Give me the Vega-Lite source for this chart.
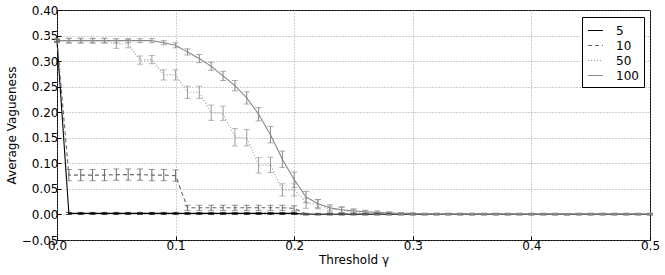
{
  "$schema": "https://vega.github.io/schema/vega-lite/v6.json",
  "width": 593,
  "height": 230,
  "autosize": {"type": "none"},
  "padding": {"left": 57, "top": 10, "right": 15, "bottom": 35},
  "config": {
    "font": "DejaVu Sans",
    "view": {"stroke": "#000000", "strokeWidth": 1},
    "axis": {
      "domain": false,
      "grid": true,
      "gridColor": "#888888",
      "gridDash": [1, 2],
      "gridWidth": 0.8,
      "tickColor": "#000000",
      "tickSize": -4,
      "labelFontSize": 12,
      "labelColor": "#000000",
      "labelOverlap": false,
      "labelFlush": false,
      "labelBound": false,
      "titleFontSize": 12,
      "titleFontWeight": "normal",
      "titleColor": "#000000"
    }
  },
  "data": {"values": [
    {"g":0,"n":"5","v":0.34,"lo":0.338,"hi":0.342},
    {"g":0.01,"n":"5","v":0.002,"lo":0,"hi":0.004},
    {"g":0.02,"n":"5","v":0.002,"lo":0,"hi":0.004},
    {"g":0.03,"n":"5","v":0.002,"lo":0,"hi":0.004},
    {"g":0.04,"n":"5","v":0.002,"lo":0,"hi":0.004},
    {"g":0.05,"n":"5","v":0.002,"lo":0,"hi":0.004},
    {"g":0.06,"n":"5","v":0.002,"lo":0,"hi":0.004},
    {"g":0.07,"n":"5","v":0.002,"lo":0,"hi":0.004},
    {"g":0.08,"n":"5","v":0.002,"lo":0,"hi":0.004},
    {"g":0.09,"n":"5","v":0.002,"lo":0,"hi":0.004},
    {"g":0.10,"n":"5","v":0.002,"lo":0,"hi":0.004},
    {"g":0.11,"n":"5","v":0.002,"lo":0,"hi":0.004},
    {"g":0.12,"n":"5","v":0.002,"lo":0,"hi":0.004},
    {"g":0.13,"n":"5","v":0.002,"lo":0,"hi":0.004},
    {"g":0.14,"n":"5","v":0.002,"lo":0,"hi":0.004},
    {"g":0.15,"n":"5","v":0.002,"lo":0,"hi":0.004},
    {"g":0.16,"n":"5","v":0.002,"lo":0,"hi":0.004},
    {"g":0.17,"n":"5","v":0.002,"lo":0,"hi":0.004},
    {"g":0.18,"n":"5","v":0.002,"lo":0,"hi":0.004},
    {"g":0.19,"n":"5","v":0.002,"lo":0,"hi":0.004},
    {"g":0.20,"n":"5","v":0.002,"lo":0,"hi":0.004},
    {"g":0.21,"n":"5","v":0.0005,"lo":-0.001,"hi":0.002},
    {"g":0.22,"n":"5","v":0.0005,"lo":-0.001,"hi":0.002},
    {"g":0.23,"n":"5","v":0.0005,"lo":-0.001,"hi":0.002},
    {"g":0.24,"n":"5","v":0.0005,"lo":-0.001,"hi":0.002},
    {"g":0.25,"n":"5","v":0.0005,"lo":-0.001,"hi":0.002},
    {"g":0.26,"n":"5","v":0.0005,"lo":-0.001,"hi":0.002},
    {"g":0.27,"n":"5","v":0.0005,"lo":-0.001,"hi":0.002},
    {"g":0.28,"n":"5","v":0.0005,"lo":-0.001,"hi":0.002},
    {"g":0.29,"n":"5","v":0.0005,"lo":-0.001,"hi":0.002},
    {"g":0.30,"n":"5","v":0.0005,"lo":-0.001,"hi":0.002},
    {"g":0.31,"n":"5","v":0.0005,"lo":-0.001,"hi":0.002},
    {"g":0.32,"n":"5","v":0.0005,"lo":-0.001,"hi":0.002},
    {"g":0.33,"n":"5","v":0.0005,"lo":-0.001,"hi":0.002},
    {"g":0.34,"n":"5","v":0.0005,"lo":-0.001,"hi":0.002},
    {"g":0.35,"n":"5","v":0.0005,"lo":-0.001,"hi":0.002},
    {"g":0.36,"n":"5","v":0.0005,"lo":-0.001,"hi":0.002},
    {"g":0.37,"n":"5","v":0.0005,"lo":-0.001,"hi":0.002},
    {"g":0.38,"n":"5","v":0.0005,"lo":-0.001,"hi":0.002},
    {"g":0.39,"n":"5","v":0.0005,"lo":-0.001,"hi":0.002},
    {"g":0.40,"n":"5","v":0.0005,"lo":-0.001,"hi":0.002},
    {"g":0.41,"n":"5","v":0.0005,"lo":-0.001,"hi":0.002},
    {"g":0.42,"n":"5","v":0.0005,"lo":-0.001,"hi":0.002},
    {"g":0.43,"n":"5","v":0.0005,"lo":-0.001,"hi":0.002},
    {"g":0.44,"n":"5","v":0.0005,"lo":-0.001,"hi":0.002},
    {"g":0.45,"n":"5","v":0.0005,"lo":-0.001,"hi":0.002},
    {"g":0.46,"n":"5","v":0.0005,"lo":-0.001,"hi":0.002},
    {"g":0.47,"n":"5","v":0.0005,"lo":-0.001,"hi":0.002},
    {"g":0.48,"n":"5","v":0.0005,"lo":-0.001,"hi":0.002},
    {"g":0.49,"n":"5","v":0.0005,"lo":-0.001,"hi":0.002},
    {"g":0.50,"n":"5","v":0.0005,"lo":-0.001,"hi":0.002},

    {"g":0,"n":"10","v":0.34,"lo":0.338,"hi":0.342},
    {"g":0.01,"n":"10","v":0.077,"lo":0.066,"hi":0.088},
    {"g":0.02,"n":"10","v":0.077,"lo":0.066,"hi":0.088},
    {"g":0.03,"n":"10","v":0.077,"lo":0.066,"hi":0.088},
    {"g":0.04,"n":"10","v":0.077,"lo":0.066,"hi":0.088},
    {"g":0.05,"n":"10","v":0.078,"lo":0.067,"hi":0.089},
    {"g":0.06,"n":"10","v":0.078,"lo":0.067,"hi":0.089},
    {"g":0.07,"n":"10","v":0.078,"lo":0.067,"hi":0.089},
    {"g":0.08,"n":"10","v":0.077,"lo":0.066,"hi":0.088},
    {"g":0.09,"n":"10","v":0.077,"lo":0.066,"hi":0.088},
    {"g":0.10,"n":"10","v":0.076,"lo":0.065,"hi":0.087},
    {"g":0.11,"n":"10","v":0.013,"lo":0.008,"hi":0.018},
    {"g":0.12,"n":"10","v":0.013,"lo":0.008,"hi":0.018},
    {"g":0.13,"n":"10","v":0.013,"lo":0.008,"hi":0.018},
    {"g":0.14,"n":"10","v":0.013,"lo":0.008,"hi":0.018},
    {"g":0.15,"n":"10","v":0.013,"lo":0.008,"hi":0.018},
    {"g":0.16,"n":"10","v":0.013,"lo":0.008,"hi":0.018},
    {"g":0.17,"n":"10","v":0.013,"lo":0.008,"hi":0.018},
    {"g":0.18,"n":"10","v":0.013,"lo":0.008,"hi":0.018},
    {"g":0.19,"n":"10","v":0.013,"lo":0.008,"hi":0.018},
    {"g":0.20,"n":"10","v":0.012,"lo":0.007,"hi":0.017},
    {"g":0.21,"n":"10","v":0.001,"lo":0,"hi":0.002},
    {"g":0.22,"n":"10","v":0.001,"lo":0,"hi":0.002},
    {"g":0.23,"n":"10","v":0.001,"lo":0,"hi":0.002},
    {"g":0.24,"n":"10","v":0.001,"lo":0,"hi":0.002},
    {"g":0.25,"n":"10","v":0.001,"lo":0,"hi":0.002},
    {"g":0.26,"n":"10","v":0.001,"lo":0,"hi":0.002},
    {"g":0.27,"n":"10","v":0.001,"lo":0,"hi":0.002},
    {"g":0.28,"n":"10","v":0.001,"lo":0,"hi":0.002},
    {"g":0.29,"n":"10","v":0.001,"lo":0,"hi":0.002},
    {"g":0.30,"n":"10","v":0.001,"lo":0,"hi":0.002},
    {"g":0.31,"n":"10","v":0.001,"lo":0,"hi":0.002},
    {"g":0.32,"n":"10","v":0.001,"lo":0,"hi":0.002},
    {"g":0.33,"n":"10","v":0.001,"lo":0,"hi":0.002},
    {"g":0.34,"n":"10","v":0.001,"lo":0,"hi":0.002},
    {"g":0.35,"n":"10","v":0.001,"lo":0,"hi":0.002},
    {"g":0.36,"n":"10","v":0.001,"lo":0,"hi":0.002},
    {"g":0.37,"n":"10","v":0.001,"lo":0,"hi":0.002},
    {"g":0.38,"n":"10","v":0.001,"lo":0,"hi":0.002},
    {"g":0.39,"n":"10","v":0.001,"lo":0,"hi":0.002},
    {"g":0.40,"n":"10","v":0.001,"lo":0,"hi":0.002},
    {"g":0.41,"n":"10","v":0.001,"lo":0,"hi":0.002},
    {"g":0.42,"n":"10","v":0.001,"lo":0,"hi":0.002},
    {"g":0.43,"n":"10","v":0.001,"lo":0,"hi":0.002},
    {"g":0.44,"n":"10","v":0.001,"lo":0,"hi":0.002},
    {"g":0.45,"n":"10","v":0.001,"lo":0,"hi":0.002},
    {"g":0.46,"n":"10","v":0.001,"lo":0,"hi":0.002},
    {"g":0.47,"n":"10","v":0.001,"lo":0,"hi":0.002},
    {"g":0.48,"n":"10","v":0.001,"lo":0,"hi":0.002},
    {"g":0.49,"n":"10","v":0.001,"lo":0,"hi":0.002},
    {"g":0.50,"n":"10","v":0.001,"lo":0,"hi":0.002},

    {"g":0,"n":"50","v":0.340,"lo":0.337,"hi":0.343},
    {"g":0.01,"n":"50","v":0.340,"lo":0.335,"hi":0.345},
    {"g":0.02,"n":"50","v":0.340,"lo":0.335,"hi":0.345},
    {"g":0.03,"n":"50","v":0.340,"lo":0.335,"hi":0.345},
    {"g":0.04,"n":"50","v":0.340,"lo":0.335,"hi":0.345},
    {"g":0.05,"n":"50","v":0.333,"lo":0.325,"hi":0.341},
    {"g":0.06,"n":"50","v":0.334,"lo":0.326,"hi":0.342},
    {"g":0.07,"n":"50","v":0.302,"lo":0.294,"hi":0.310},
    {"g":0.08,"n":"50","v":0.303,"lo":0.295,"hi":0.311},
    {"g":0.09,"n":"50","v":0.273,"lo":0.263,"hi":0.283},
    {"g":0.10,"n":"50","v":0.273,"lo":0.263,"hi":0.283},
    {"g":0.11,"n":"50","v":0.239,"lo":0.227,"hi":0.251},
    {"g":0.12,"n":"50","v":0.239,"lo":0.227,"hi":0.251},
    {"g":0.13,"n":"50","v":0.199,"lo":0.184,"hi":0.214},
    {"g":0.14,"n":"50","v":0.198,"lo":0.184,"hi":0.212},
    {"g":0.15,"n":"50","v":0.151,"lo":0.134,"hi":0.168},
    {"g":0.16,"n":"50","v":0.150,"lo":0.134,"hi":0.166},
    {"g":0.17,"n":"50","v":0.096,"lo":0.081,"hi":0.111},
    {"g":0.18,"n":"50","v":0.097,"lo":0.082,"hi":0.112},
    {"g":0.19,"n":"50","v":0.048,"lo":0.036,"hi":0.060},
    {"g":0.20,"n":"50","v":0.048,"lo":0.036,"hi":0.060},
    {"g":0.21,"n":"50","v":0.022,"lo":0.012,"hi":0.032},
    {"g":0.22,"n":"50","v":0.020,"lo":0.011,"hi":0.029},
    {"g":0.23,"n":"50","v":0.010,"lo":0.004,"hi":0.016},
    {"g":0.24,"n":"50","v":0.009,"lo":0.003,"hi":0.015},
    {"g":0.25,"n":"50","v":0.005,"lo":0.001,"hi":0.009},
    {"g":0.26,"n":"50","v":0.004,"lo":0.001,"hi":0.007},
    {"g":0.27,"n":"50","v":0.003,"lo":0.001,"hi":0.005},
    {"g":0.28,"n":"50","v":0.002,"lo":0,"hi":0.004},
    {"g":0.29,"n":"50","v":0.001,"lo":0,"hi":0.002},
    {"g":0.30,"n":"50","v":0.001,"lo":0,"hi":0.002},
    {"g":0.31,"n":"50","v":0.001,"lo":0,"hi":0.002},
    {"g":0.32,"n":"50","v":0.001,"lo":0,"hi":0.002},
    {"g":0.33,"n":"50","v":0.001,"lo":0,"hi":0.002},
    {"g":0.34,"n":"50","v":0.001,"lo":0,"hi":0.002},
    {"g":0.35,"n":"50","v":0.001,"lo":0,"hi":0.002},
    {"g":0.36,"n":"50","v":0.001,"lo":0,"hi":0.002},
    {"g":0.37,"n":"50","v":0.001,"lo":0,"hi":0.002},
    {"g":0.38,"n":"50","v":0.001,"lo":0,"hi":0.002},
    {"g":0.39,"n":"50","v":0.001,"lo":0,"hi":0.002},
    {"g":0.40,"n":"50","v":0.001,"lo":0,"hi":0.002},
    {"g":0.41,"n":"50","v":0.001,"lo":0,"hi":0.002},
    {"g":0.42,"n":"50","v":0.001,"lo":0,"hi":0.002},
    {"g":0.43,"n":"50","v":0.001,"lo":0,"hi":0.002},
    {"g":0.44,"n":"50","v":0.001,"lo":0,"hi":0.002},
    {"g":0.45,"n":"50","v":0.001,"lo":0,"hi":0.002},
    {"g":0.46,"n":"50","v":0.001,"lo":0,"hi":0.002},
    {"g":0.47,"n":"50","v":0.001,"lo":0,"hi":0.002},
    {"g":0.48,"n":"50","v":0.001,"lo":0,"hi":0.002},
    {"g":0.49,"n":"50","v":0.001,"lo":0,"hi":0.002},
    {"g":0.50,"n":"50","v":0.001,"lo":0,"hi":0.002},

    {"g":0,"n":"100","v":0.340,"lo":0.336,"hi":0.344},
    {"g":0.01,"n":"100","v":0.340,"lo":0.336,"hi":0.344},
    {"g":0.02,"n":"100","v":0.340,"lo":0.336,"hi":0.344},
    {"g":0.03,"n":"100","v":0.340,"lo":0.336,"hi":0.344},
    {"g":0.04,"n":"100","v":0.340,"lo":0.336,"hi":0.344},
    {"g":0.05,"n":"100","v":0.340,"lo":0.336,"hi":0.344},
    {"g":0.06,"n":"100","v":0.340,"lo":0.336,"hi":0.344},
    {"g":0.07,"n":"100","v":0.340,"lo":0.336,"hi":0.344},
    {"g":0.08,"n":"100","v":0.340,"lo":0.336,"hi":0.344},
    {"g":0.09,"n":"100","v":0.336,"lo":0.332,"hi":0.340},
    {"g":0.10,"n":"100","v":0.331,"lo":0.326,"hi":0.336},
    {"g":0.11,"n":"100","v":0.318,"lo":0.312,"hi":0.324},
    {"g":0.12,"n":"100","v":0.305,"lo":0.297,"hi":0.313},
    {"g":0.13,"n":"100","v":0.290,"lo":0.282,"hi":0.298},
    {"g":0.14,"n":"100","v":0.271,"lo":0.262,"hi":0.280},
    {"g":0.15,"n":"100","v":0.252,"lo":0.242,"hi":0.262},
    {"g":0.16,"n":"100","v":0.228,"lo":0.216,"hi":0.240},
    {"g":0.17,"n":"100","v":0.196,"lo":0.183,"hi":0.209},
    {"g":0.18,"n":"100","v":0.156,"lo":0.140,"hi":0.172},
    {"g":0.19,"n":"100","v":0.108,"lo":0.092,"hi":0.124},
    {"g":0.20,"n":"100","v":0.068,"lo":0.053,"hi":0.083},
    {"g":0.21,"n":"100","v":0.034,"lo":0.023,"hi":0.045},
    {"g":0.22,"n":"100","v":0.021,"lo":0.013,"hi":0.029},
    {"g":0.23,"n":"100","v":0.013,"lo":0.007,"hi":0.019},
    {"g":0.24,"n":"100","v":0.009,"lo":0.004,"hi":0.014},
    {"g":0.25,"n":"100","v":0.007,"lo":0.003,"hi":0.011},
    {"g":0.26,"n":"100","v":0.005,"lo":0.002,"hi":0.008},
    {"g":0.27,"n":"100","v":0.004,"lo":0.001,"hi":0.007},
    {"g":0.28,"n":"100","v":0.003,"lo":0.001,"hi":0.005},
    {"g":0.29,"n":"100","v":0.002,"lo":0,"hi":0.004},
    {"g":0.30,"n":"100","v":0.002,"lo":0.001,"hi":0.003},
    {"g":0.31,"n":"100","v":0.001,"lo":0,"hi":0.002},
    {"g":0.32,"n":"100","v":0.001,"lo":0,"hi":0.002},
    {"g":0.33,"n":"100","v":0.001,"lo":0,"hi":0.002},
    {"g":0.34,"n":"100","v":0.001,"lo":0,"hi":0.002},
    {"g":0.35,"n":"100","v":0.001,"lo":0,"hi":0.002},
    {"g":0.36,"n":"100","v":0.001,"lo":0,"hi":0.002},
    {"g":0.37,"n":"100","v":0.001,"lo":0,"hi":0.002},
    {"g":0.38,"n":"100","v":0.001,"lo":0,"hi":0.002},
    {"g":0.39,"n":"100","v":0.001,"lo":0,"hi":0.002},
    {"g":0.40,"n":"100","v":0.001,"lo":0,"hi":0.002},
    {"g":0.41,"n":"100","v":0.001,"lo":0,"hi":0.002},
    {"g":0.42,"n":"100","v":0.001,"lo":0,"hi":0.002},
    {"g":0.43,"n":"100","v":0.001,"lo":0,"hi":0.002},
    {"g":0.44,"n":"100","v":0.001,"lo":0,"hi":0.002},
    {"g":0.45,"n":"100","v":0.001,"lo":0,"hi":0.002},
    {"g":0.46,"n":"100","v":0.001,"lo":0,"hi":0.002},
    {"g":0.47,"n":"100","v":0.001,"lo":0,"hi":0.002},
    {"g":0.48,"n":"100","v":0.001,"lo":0,"hi":0.002},
    {"g":0.49,"n":"100","v":0.001,"lo":0,"hi":0.002},
    {"g":0.50,"n":"100","v":0.001,"lo":0,"hi":0.002}
  ]},
  "encoding": {
    "x": {
      "field": "g", "type": "quantitative",
      "scale": {"domain": [0, 0.5], "nice": false, "zero": false},
      "axis": {"title": "Threshold γ", "values": [0, 0.1, 0.2, 0.3, 0.4, 0.5], "format": ".1f", "labelPadding": 4, "titlePadding": 3, "labelOverlap": false}
    },
    "y": {
      "field": "v", "type": "quantitative",
      "scale": {"domain": [-0.05, 0.4], "nice": false, "zero": false},
      "axis": {"title": "Average Vagueness", "values": [-0.05, 0, 0.05, 0.1, 0.15, 0.2, 0.25, 0.3, 0.35, 0.4], "format": ".2f", "labelPadding": 3, "titlePadding": 3, "labelOverlap": false}
    },
    "color": {
      "field": "n", "type": "nominal",
      "scale": {"domain": ["5", "10", "50", "100"], "range": ["#000000", "#666666", "#999999", "#888888"]},
      "legend": null
    }
  },
  "layer": [
    {
      "mark": {"type": "line", "strokeWidth": 1.1},
      "encoding": {
        "color": {
          "field": "n", "type": "nominal",
          "scale": {"domain": ["5", "10", "50", "100"], "range": ["#000000", "#666666", "#999999", "#888888"]},
          "legend": {
            "title": null, "orient": "none", "legendX": 525, "legendY": 7,
            "symbolType": "stroke", "symbolSize": 225, "symbolStrokeWidth": 1.2,
            "labelFontSize": 12, "labelColor": "#000000", "labelOffset": 12,
            "rowPadding": -1, "padding": 5,
            "strokeColor": "#000000", "fillColor": "#ffffff"
          }
        },
        "strokeDash": {
          "field": "n", "type": "nominal",
          "scale": {"domain": ["5", "10", "50", "100"], "range": [[1, 0], [4, 3], [1, 2], [1, 0]]}
        }
      }
    },
    {
      "mark": {"type": "rule", "strokeWidth": 1},
      "encoding": {
        "y": {"field": "lo", "type": "quantitative"},
        "y2": {"field": "hi"}
      }
    },
    {
      "mark": {"type": "tick", "orient": "horizontal", "size": 6, "thickness": 1},
      "encoding": {"y": {"field": "lo", "type": "quantitative"}}
    },
    {
      "mark": {"type": "tick", "orient": "horizontal", "size": 6, "thickness": 1},
      "encoding": {"y": {"field": "hi", "type": "quantitative"}}
    }
  ]
}
